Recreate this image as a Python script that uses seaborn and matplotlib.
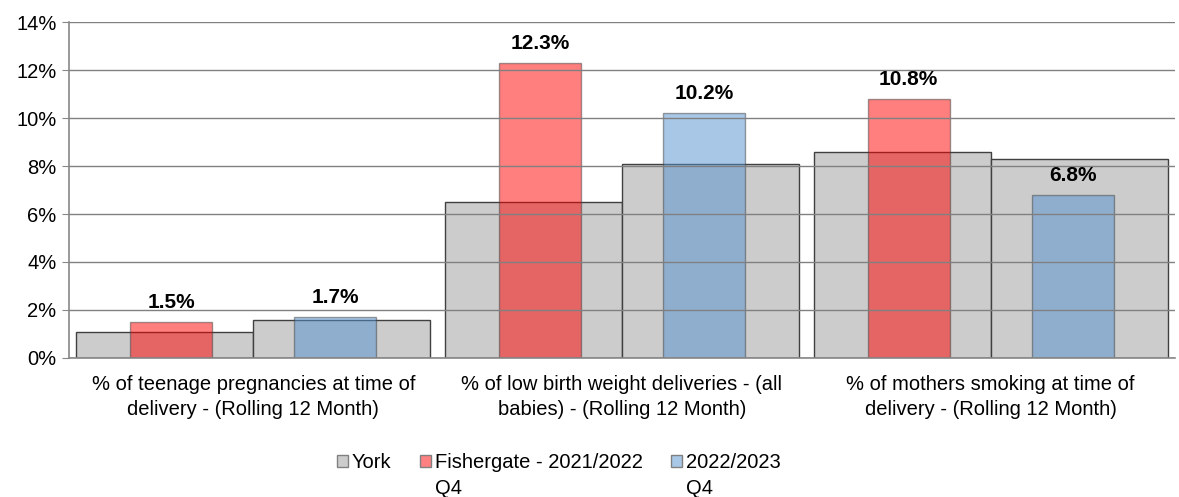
import pandas as pd
import matplotlib
matplotlib.use("Agg")
import matplotlib.pyplot as plt
import matplotlib.patches as mpatches
import seaborn as sns

categories = [
    "% of teenage pregnancies at time of\ndelivery - (Rolling 12 Month)",
    "% of low birth weight deliveries - (all\nbabies) - (Rolling 12 Month)",
    "% of mothers smoking at time of\ndelivery - (Rolling 12 Month)",
]
periods = ["2021/2022 Q4", "2022/2023 Q4"]
york_2122 = [1.1, 6.5, 8.6]
york_2223 = [1.6, 8.1, 8.3]
fishergate_2122 = [1.5, 12.3, 10.8]
fishergate_2223 = [1.7, 10.2, 6.8]
legend_labels = ["York", "Fishergate - 2021/2022", "2022/2023"]
legend_second_line = ["", "Q4", "Q4"]

york = pd.DataFrame({
    "category": categories * 2,
    "period": [periods[0]] * 3 + [periods[1]] * 3,
    "value": york_2122 + york_2223,
})
fish = pd.DataFrame({
    "category": categories * 2,
    "period": [periods[0]] * 3 + [periods[1]] * 3,
    "value": fishergate_2122 + fishergate_2223,
})

sns.set_style("white")
plt.rcParams["font.family"] = ["Liberation Sans", "DejaVu Sans"]
plt.rcParams["text.color"] = "black"

grey = "#cccccc"
red = "#ff0000"
blue = "#5391d1"
edge = "#404040"
fs = 14.5

fig = plt.figure(figsize=(11.79, 4.97), dpi=100)
ax = fig.add_axes([0.0585, 0.2797, 0.938, 0.676])

sns.barplot(data=york, x="category", y="value", hue="period", hue_order=periods,
            palette=[grey, grey], saturation=1, width=0.96, errorbar=None,
            edgecolor=edge, linewidth=1, legend=False, ax=ax, zorder=1)
n_york = len(ax.containers)
sns.barplot(data=fish, x="category", y="value", hue="period", hue_order=periods,
            palette=[red, blue], saturation=1, width=0.89, gap=0.5, errorbar=None,
            alpha=0.5, edgecolor=edge, linewidth=1, legend=False, ax=ax, zorder=1.5)

for cont in ax.containers[n_york:]:
    ax.bar_label(cont, labels=[f"{v:.1f}%" for v in cont.datavalues],
                 padding=7, fontsize=15, fontweight="bold", color="black")

ax.set_xlim(-0.5, 2.5)
ax.set_ylim(0, 14)
ax.set_yticks(range(0, 15, 2))
ax.set_yticklabels([f"{t}%" for t in range(0, 15, 2)], fontsize=fs)
ax.set_xticks(range(3))
ax.set_xticklabels(categories, fontsize=fs, linespacing=1.45)
ax.set_xticks([-0.5, 0.5, 1.5, 2.5], minor=True)
ax.tick_params(axis="x", which="major", length=0, pad=12, labelcolor="black")
ax.tick_params(axis="x", which="minor", length=6, color="#888888", direction="out")
ax.tick_params(axis="y", length=5, color="#888888", direction="out", pad=4,
               left=True, labelcolor="black")
ax.set_xlabel("")
ax.set_ylabel("")

ax.set_axisbelow(False)
ax.yaxis.grid(True, color="#808080", linewidth=1, zorder=2)
ax.xaxis.grid(False)
for s in ["top", "right"]:
    ax.spines[s].set_visible(False)
for s in ["left", "bottom"]:
    ax.spines[s].set_color("#888888")
    ax.spines[s].set_linewidth(1.2)

handles = [
    mpatches.Patch(facecolor=grey, edgecolor="#808080", linewidth=1),
    mpatches.Patch(facecolor="#ff8080", edgecolor="#808080", linewidth=1),
    mpatches.Patch(facecolor="#a9c8e8", edgecolor="#808080", linewidth=1),
]
leg = fig.legend(handles, legend_labels, loc="center", bbox_to_anchor=(0.474, 1 - 463 / 497),
                 ncol=3, frameon=False, fontsize=fs, handlelength=0.55, handleheight=0.55,
                 handletextpad=0.2, columnspacing=1.4, borderaxespad=0, borderpad=0)

# second line of the wrapped legend labels, placed under each label
fig.canvas.draw()
inv = fig.transFigure.inverted()
for txt, extra in zip(leg.get_texts(), legend_second_line):
    if not extra:
        continue
    bb = txt.get_window_extent()
    x0, y0 = inv.transform((bb.x0, bb.y0))
    fig.text(x0, y0 - 6 / 497, extra, fontsize=fs, ha="left", va="top", color="black")

fig.savefig("out.png", dpi=100)
